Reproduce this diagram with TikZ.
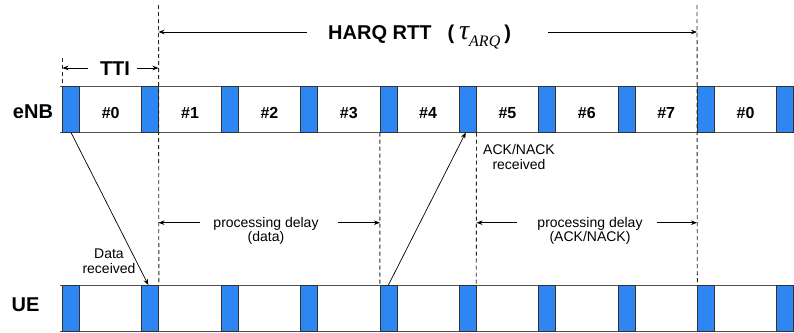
\documentclass[tikz,border=0pt]{standalone}
\usepackage{fontspec}
\setmainfont{Liberation Sans}
\newfontfamily\tms{Liberation Serif}
\usetikzlibrary{arrows.meta}
\definecolor{slotblue}{RGB}{46,134,242}
\definecolor{edgegray}{RGB}{50,50,50}
\begin{document}
\begin{tikzpicture}[x=1pt,y=-1pt,
  guard/.style={draw=edgegray, line width=0.8pt, fill=slotblue, minimum width=17pt, minimum height=46pt, inner sep=0pt, outer sep=0pt, anchor=north west},
  rowline/.style={draw=edgegray!85, line width=0.9pt},
  dashline/.style={draw=black!85, line width=0.9pt, dash pattern=on 4pt off 3pt},
  arr/.style={-{Stealth[length=6pt,width=4.5pt]}, line width=0.7pt},
  big/.style={font=\bfseries\fontsize{20}{24}\selectfont, inner sep=0pt},
  slotlbl/.style={font=\bfseries\fontsize{16}{19}\selectfont, inner sep=0pt, anchor=base},
  small/.style={font=\fontsize{14}{14.5}\selectfont, align=center, inner sep=0pt},
]
\useasboundingbox (0,0) rectangle (794,332);
% row lines
\draw[rowline] (60,86.5) -- (794,86.5);
\draw[rowline] (60,132.5) -- (794,132.5);
\draw[rowline] (60,285) -- (794,285);
\draw[rowline] (60,331) -- (794,331);
% guard blocks
\foreach \k in {0,...,9} {
  \node[guard] (e\k) at ({62.5+79.35*\k},86.5) {};
  \node[guard] (u\k) at ({62.5+79.35*\k},285) {};
}
% slot labels
\foreach \k/\t in {0/0,1/1,2/2,3/3,4/4,5/5,6/6,7/7,8/0} {
  \node[slotlbl] (s\k) at ({62.5+79.35*\k+48.2},118.3) {\#\t};
}
% row labels
\node[big, anchor=base] (enb) at (33,118.3) {eNB};
\node[big, anchor=base] (ue) at (25.5,311.7) {UE};
% dashed guides
\coordinate (g0) at (62.5,58);
\coordinate (g1) at (158.5,5);
\coordinate (g4) at (379.9,132.5);
\coordinate (g5) at (476.5,132.5);
\coordinate (g8) at (697,5);
\draw[dashline] (g0) -- (e0.north west);
\draw[dashline] (g1) -- (u1.north east);
\draw[dashline] (g4) -- (u4.north west);
\draw[dashline] (g5) -- (u5.north east);
\draw[dashline] (g8) -- (u8.north west);
% HARQ RTT
\node[big, anchor=base west] (harq) at (328,39.3) {HARQ RTT\hspace{16pt}(\hspace{5pt}{\tms\mdseries\itshape\fontsize{28}{28}\selectfont τ}{\tms\mdseries\itshape\fontsize{16}{16}\selectfont\raisebox{-7pt}{ARQ}}\hspace{4pt})};
\coordinate (h1) at (307,32);
\coordinate (h2) at (548,32);
\draw[arr] (h1) -- (g1 |- h1);
\draw[arr] (h2) -- (g8 |- h2);
% TTI
\node[big, anchor=base] (tti) at (115,75) {TTI};
\coordinate (t1) at (88,68);
\coordinate (t2) at (137,68);
\draw[arr] (t1) -- (g0 |- t1);
\draw[arr] (t2) -- (g1 |- t2);
% processing delay (data)
\node[small] (pd1) at (266,231) {processing delay\\(data)};
\coordinate (p1) at (200,222.7);
\coordinate (p2) at (338,222.7);
\draw[arr] (p1) -- (g1 |- p1);
\draw[arr] (p2) -- (g4 |- p2);
% processing delay (ACK/NACK)
\node[small] (pd2) at (590,231) {processing delay\\(ACK/NACK)};
\coordinate (q1) at (516.7,222.7);
\coordinate (q2) at (656.7,222.7);
\draw[arr] (q1) -- (g5 |- q1);
\draw[arr] (q2) -- (g8 |- q2);
% data / ack arrows
\draw[arr] (e0.south) -- ([xshift=-2pt]u1.north);
\draw[arr] (u4.north) -- ([xshift=-2pt]e5.south);
\node[small] (drx) at (109,261) {Data\\received};
\node[small] (arx) at (519,157) {ACK/NACK\\received};
\end{tikzpicture}
\end{document}
